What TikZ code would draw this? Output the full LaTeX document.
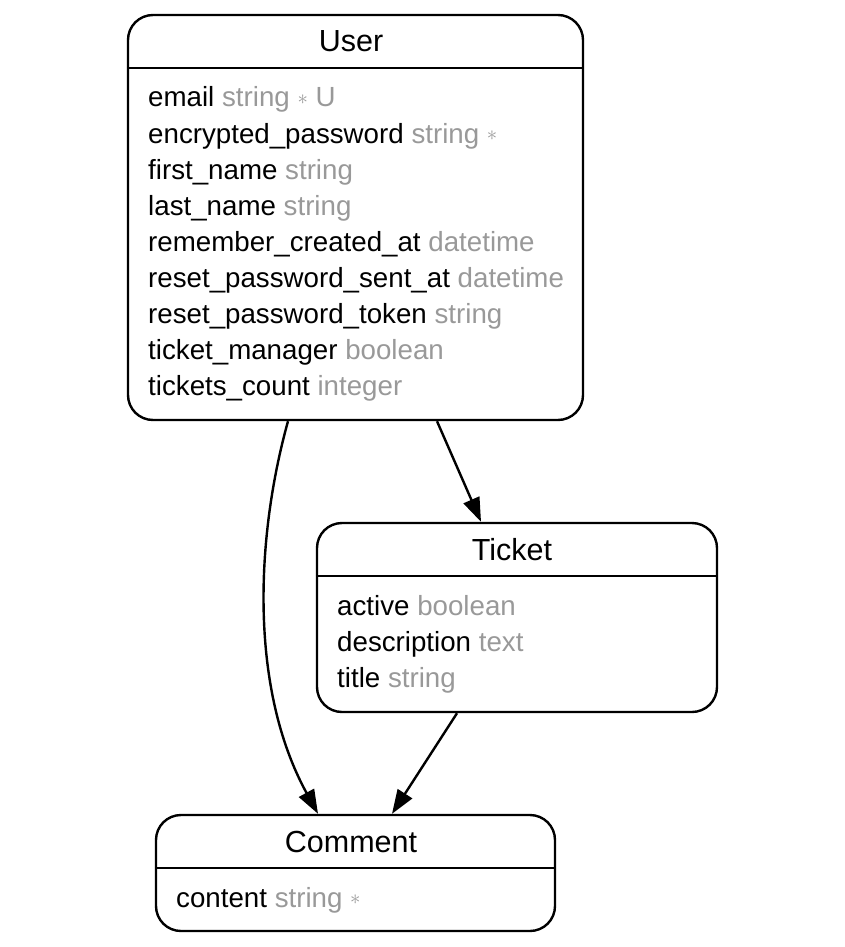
\documentclass[tikz,border=0pt]{standalone}
\usepackage{fontspec}
\setmainfont{Liberation Sans}
\usetikzlibrary{arrows.meta, positioning}
\definecolor{typegrey}{RGB}{153,153,153}
\newcommand{\ty}[1]{{\color{typegrey}#1}}
\newcommand{\req}{\raisebox{2.5pt}{\fontsize{20}{20}\selectfont$\ast$}}

\begin{document}
\begin{tikzpicture}[x=1pt, y=-1pt,
    entity/.style={draw, line width=2.4pt, rounded corners=25pt, inner sep=0pt},
    title/.style={anchor=base, inner sep=0pt, font=\fontsize{30.5}{36}\selectfont},
    attr/.style={anchor=base west, inner sep=0pt, font=\fontsize{27.7}{33}\selectfont},
    sep/.style={line width=2pt},
    rel/.style={line width=2.4pt, -{Triangle[length=24pt, width=17pt]}}]
    \useasboundingbox (0,0) rectangle (845,947);

    % User
    \node[entity, minimum width=455pt, minimum height=405pt] (user) at (355.5,217.5) {};
    \node[title] (user title) at (351,52) {User};
    \draw[sep] (user.west |- 0,68) -- (user.east |- 0,68);
    \foreach \n/\t [count=\i from 0] in {
        email/string \req{} U,
        encrypted\_password/string \req,
        first\_name/string,
        last\_name/string,
        remember\_created\_at/datetime,
        reset\_password\_sent\_at/datetime,
        reset\_password\_token/string,
        ticket\_manager/boolean,
        tickets\_count/integer}
        \node[attr] (user row\i) at (148,{107+36*\i}) {\n{} \ty{\t}};

    % Ticket
    \node[entity, minimum width=400pt, minimum height=189pt] (ticket) at (517,617.5) {};
    \node[title] (ticket title) at (512,560) {Ticket};
    \draw[sep] (ticket.west |- 0,576) -- (ticket.east |- 0,576);
    \foreach \n/\t [count=\i from 0] in {
        active/boolean,
        description/text,
        title/string}
        \node[attr] (ticket row\i) at (337,{615+36*\i}) {\n{} \ty{\t}};

    % Comment
    \node[entity, minimum width=399pt, minimum height=116pt] (comment) at (355.5,873) {};
    \node[title] (comment title) at (351,852) {Comment};
    \draw[sep] (comment.west |- 0,868) -- (comment.east |- 0,868);
    \node[attr] (comment row0) at (176,907) {content \ty{string \req}};

    % relations
    \draw[rel] ([xshift=81.5]user.south) -- ([xshift=-36]ticket.north);
    \draw[rel] ([xshift=-67.5]user.south) .. controls (255,540) and (250,690) .. ([xshift=-37.5]comment.north);
    \draw[rel] ([xshift=-60]ticket.south) -- ([xshift=36.5]comment.north);
\end{tikzpicture}
\end{document}
